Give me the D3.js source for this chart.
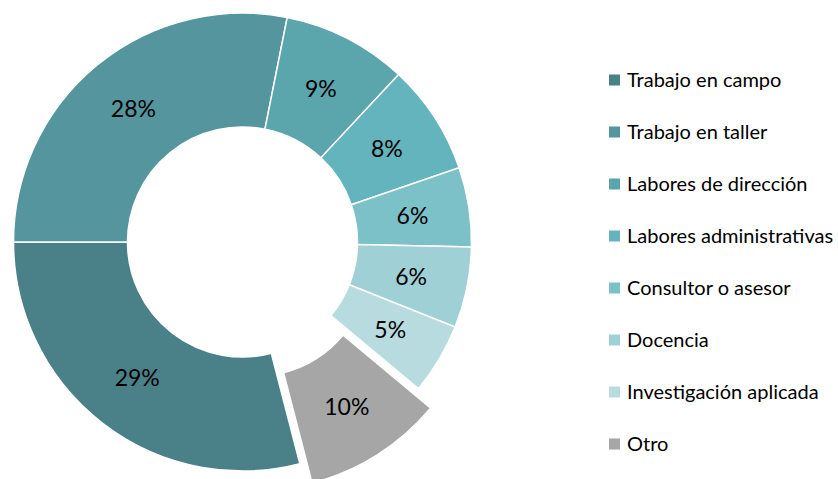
<!DOCTYPE html>
<html>
<head>
<meta charset="utf-8">
<script src="https://d3js.org/d3.v7.min.js"></script>
<style>
    html, body { margin: 0; background: white; }
    text { font-family: Lato, 'Open Sans', sans-serif; fill: black; }
</style>
</head>
<body>
<svg id="chart" width="838" height="479"></svg>
<script>

//DATA
const categories = ['Trabajo en campo', 'Trabajo en taller', 'Labores de dirección',
    'Labores administrativas', 'Consultor o asesor', 'Docencia',
    'Investigación aplicada', 'Otro']
const values = [29.0, 28.1, 8.8, 7.8, 5.6, 5.7, 5.0, 9.9]
const colors = ['#4a8087', '#55959d', '#5ba5ad', '#64b4bd', '#7dc1c8', '#9fd0d5', '#b8dbdf', '#a6a6a6']
const exploded = ['Otro']

//LAYOUT
let cx = 242.5, cy = 242
let rOut = 229, rIn = 115
let offset = 23

const svg = d3.select('#chart')
const total = d3.sum(values)
// campo/taller boundary sits at 9 o'clock
const start = 1.5 * Math.PI - (values[0] / total) * 2 * Math.PI

const pie = d3.pie()
    .value(d => d.v)
    .sort(null)
    .startAngle(start)
    .endAngle(start + 2 * Math.PI)

const arc = d3.arc().innerRadius(rIn).outerRadius(rOut)
const labelArc = d3.arc().innerRadius(172).outerRadius(172)

const data = categories.map((c, i) => ({ c: c, v: values[i], col: colors[i] }))

const g = svg.append('g').attr('transform', 'translate(' + cx + ',' + cy + ')')

const slices = g.selectAll('g.slice')
    .data(pie(data))
    .join('g')
    .attr('class', 'slice')
    .attr('transform', d => {
        if (exploded.indexOf(d.data.c) < 0) return null
        let a = (d.startAngle + d.endAngle) / 2
        return 'translate(' + (Math.sin(a) * offset) + ',' + (-Math.cos(a) * offset) + ')'
    })

slices.append('path')
    .attr('d', arc)
    .attr('fill', d => d.data.col)
    .attr('stroke', 'white')
    .attr('stroke-width', 1.5)

slices.append('text')
    .attr('transform', d => 'translate(' + labelArc.centroid(d) + ')')
    .attr('text-anchor', 'middle')
    .attr('dy', '0.36em')
    .style('font-size', '23px')
    .text(d => Math.round(d.data.v) + '%')

//LEGEND
const ly = d3.scalePoint().domain(categories).range([80, 444])

const leg = svg.selectAll('g.leg')
    .data(data)
    .join('g')
    .attr('class', 'leg')
    .attr('transform', d => 'translate(609,' + ly(d.c) + ')')

leg.append('rect')
    .attr('x', 0).attr('y', -5.5)
    .attr('width', 11).attr('height', 11)
    .attr('fill', d => d.col)

leg.append('text')
    .attr('x', 18)
    .attr('dy', '0.36em')
    .style('font-size', '20px')
    .text(d => d.c)

</script>
</body>
</html>
